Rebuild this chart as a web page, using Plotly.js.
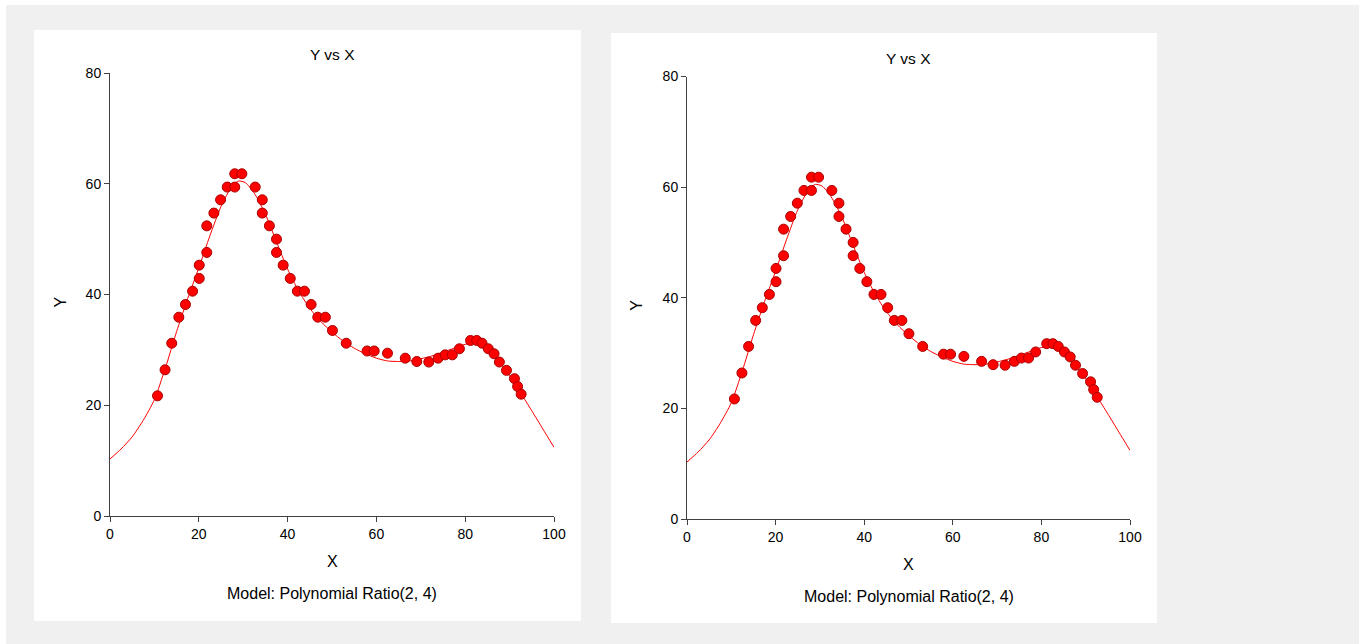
<!DOCTYPE html>
<html>
<head>
<meta charset="utf-8">
<script src="https://cdn.plot.ly/plotly-3.0.1.min.js"></script>
<style>
html,body{margin:0;padding:0;background:#f0f0f0;}
#chart{width:1359px;height:644px;}
</style>
</head>
<body>
<div id="chart"></div>
<script>
// Observed data points
const xData = [10.7, 12.4, 13.9, 15.5, 17.0, 18.6, 20.1, 20.1, 21.8, 21.8, 23.4, 24.9, 26.4, 28.1, 28.1, 29.7, 32.7, 34.3, 34.3, 35.9, 37.5, 37.5, 39.0, 40.6, 42.2, 43.8, 45.3, 46.8, 48.5, 50.1, 53.2, 57.9, 59.5, 62.5, 66.5, 69.1, 71.8, 73.9, 75.5, 77.1, 78.7, 81.2, 82.6, 83.8, 85.2, 86.5, 87.7, 89.3, 91.1, 91.8, 92.6];
const yData = [21.7, 26.4, 31.2, 35.9, 38.2, 40.6, 42.9, 45.3, 47.6, 52.4, 54.7, 57.1, 59.4, 59.4, 61.8, 61.8, 59.4, 57.1, 54.7, 52.4, 50.0, 47.6, 45.3, 42.9, 40.6, 40.6, 38.2, 35.9, 35.9, 33.5, 31.2, 29.8, 29.8, 29.4, 28.5, 27.9, 27.8, 28.5, 29.1, 29.1, 30.2, 31.7, 31.7, 31.2, 30.2, 29.3, 27.8, 26.3, 24.8, 23.4, 22.0];

// Fitted model curve
const curveX = [0, 2.5, 5, 7.5, 10, 12.5, 15, 17.5, 20, 22.5, 25, 27.5, 29, 30.5, 32.5, 35, 37.5, 40, 42.5, 45, 47.5, 50, 52.5, 55, 57.5, 60, 62.5, 65, 67.5, 70, 72.5, 75, 77.5, 80, 82.5, 85, 87.5, 90, 92.5, 95, 97.5, 100];
const curveY = [10.3, 12.1, 14.3, 17.3, 21.0, 26.8, 33.3, 39.3, 44.8, 50.6, 55.9, 59.6, 60.5, 60.2, 58.3, 54.5, 49.5, 44.6, 40.6, 37.5, 35.1, 33.2, 31.6, 30.3, 29.3, 28.5, 28.0, 27.9, 28.0, 28.4, 28.9, 29.6, 30.3, 31.0, 31.1, 30.2, 28.1, 25.3, 22.2, 19.0, 15.7, 12.4];

const titleText = 'Y vs X';
const xTitle = 'X';
const yTitle = 'Y';
const modelText = 'Model: Polynomial Ratio(2, 4)';
const xTicks = [0, 20, 40, 60, 80, 100];
const yTicks = [0, 20, 40, 60, 80];

const W = 1359, H = 644;
const px = v => v / W;
const py = v => 1 - v / H;

const font = {family: 'Liberation Sans, Arial, sans-serif', size: 14, color: '#000'};
const markerStyle = {color: '#ff0000', size: 10, line: {color: '#a80000', width: 1}};
const lineStyle = {color: '#ff0000', width: 1, shape: 'spline', smoothing: 0.6};

const traces = [];
[['x', 'y'], ['x2', 'y2']].forEach(([xa, ya]) => {
  traces.push({x: curveX, y: curveY, xaxis: xa, yaxis: ya, type: 'scatter', mode: 'lines', line: lineStyle, hoverinfo: 'skip'});
  traces.push({x: xData, y: yData, xaxis: xa, yaxis: ya, type: 'scatter', mode: 'markers', marker: markerStyle});
});

function axis(domain, range, ticks, anchor) {
  return {
    domain: domain, range: range, anchor: anchor,
    tickvals: ticks, ticktext: ticks.map(String),
    showgrid: false, zeroline: false,
    showline: true, linecolor: '#404040', linewidth: 1,
    ticks: 'outside', ticklen: 5, tickcolor: '#404040', tickwidth: 1,
    tickfont: {family: font.family, size: 14, color: '#000'},
    fixedrange: true
  };
}

const panels = [
  {x0: 34, y0: 30, x1: 581, y1: 621, ax0: 110, ax1: 554, ay0: 516, ay80: 73},
  {x0: 611, y0: 33, x1: 1157, y1: 623, ax0: 687, ax1: 1130, ay0: 519, ay80: 76.5}
];

const shapes = [
  {type: 'rect', xref: 'paper', yref: 'paper', x0: 0, x1: 1, y0: py(5), y1: 1, fillcolor: '#ffffff', line: {width: 0}, layer: 'below'},
  {type: 'rect', xref: 'paper', yref: 'paper', x0: 0, x1: px(6), y0: 0, y1: 1, fillcolor: '#ffffff', line: {width: 0}, layer: 'below'}
];
const annotations = [];
panels.forEach(p => {
  shapes.push({type: 'rect', xref: 'paper', yref: 'paper', x0: px(p.x0), x1: px(p.x1), y0: py(p.y1), y1: py(p.y0), fillcolor: '#ffffff', line: {width: 0}, layer: 'below'});
  const cx = (p.ax0 + p.ax1) / 2;
  const cy = (p.ay0 + p.ay80) / 2;
  annotations.push({xref: 'paper', yref: 'paper', x: px(cx), y: py(p.ay80 - 18), text: titleText, showarrow: false, xanchor: 'center', yanchor: 'middle', font: {family: font.family, size: 15.5, color: '#000'}});
  annotations.push({xref: 'paper', yref: 'paper', x: px(cx), y: py(p.ay0 + 45), text: xTitle, showarrow: false, xanchor: 'center', yanchor: 'middle', font: {family: font.family, size: 16, color: '#000'}});
  annotations.push({xref: 'paper', yref: 'paper', x: px(cx), y: py(p.ay0 + 77), text: modelText, showarrow: false, xanchor: 'center', yanchor: 'middle', font: {family: font.family, size: 16, color: '#000'}});
  annotations.push({xref: 'paper', yref: 'paper', x: px(p.ax0 - 50), y: py(cy + 8), text: yTitle, showarrow: false, xanchor: 'center', yanchor: 'middle', textangle: -90, font: {family: font.family, size: 16, color: '#000'}});
});

const layout = {
  width: W, height: H,
  margin: {l: 0, r: 0, t: 0, b: 0, pad: 0},
  paper_bgcolor: '#f0f0f0',
  plot_bgcolor: 'rgba(0,0,0,0)',
  showlegend: false,
  font: font,
  xaxis: axis([px(panels[0].ax0), px(panels[0].ax1)], [0, 100], xTicks, 'y'),
  yaxis: axis([py(panels[0].ay0), py(panels[0].ay80)], [0, 80], yTicks, 'x'),
  xaxis2: axis([px(panels[1].ax0), px(panels[1].ax1)], [0, 100], xTicks, 'y2'),
  yaxis2: axis([py(panels[1].ay0), py(panels[1].ay80)], [0, 80], yTicks, 'x2'),
  shapes: shapes,
  annotations: annotations
};

Plotly.newPlot('chart', traces, layout, {displayModeBar: false, staticPlot: true});
</script>
</body>
</html>
